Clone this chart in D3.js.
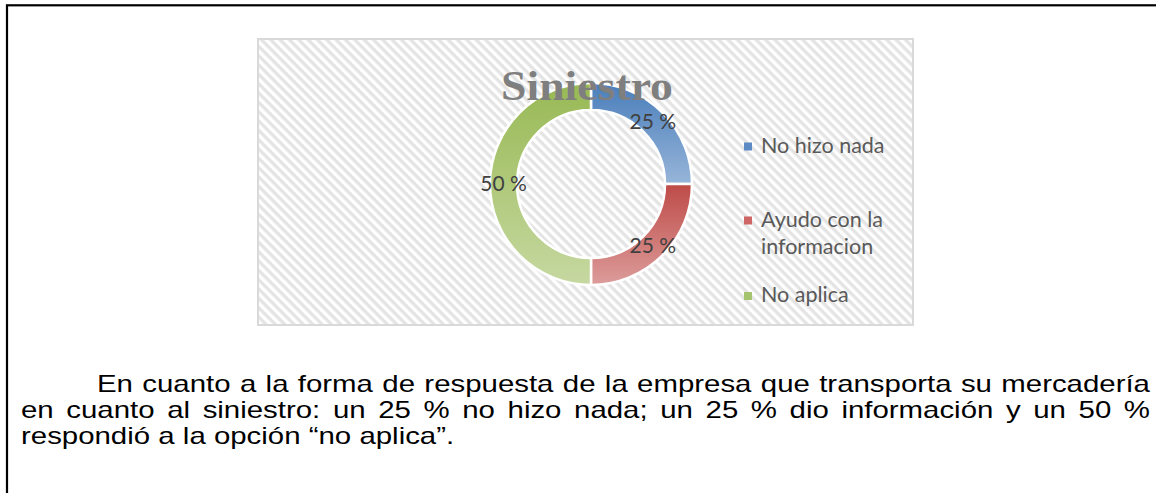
<!DOCTYPE html>
<html>
<head>
<meta charset="utf-8">
<script src="https://cdn.jsdelivr.net/npm/d3@7"></script>
<style>
  html, body { margin: 0; padding: 0; background: #ffffff; overflow: hidden; }
  svg { display: block; }
</style>
</head>
<body>
<svg id="chart" width="1156" height="493"></svg>
<script>
// ---- data ----
const categories = ["No hizo nada", "Ayudo con la informacion", "No aplica"];
const legendLines = [["No hizo nada"], ["Ayudo con la", "informacion"], ["No aplica"]];
const values = [25, 25, 50];
const valueLabels = ["25 %", "25 %", "50 %"];
const chartTitle = "Siniestro";
const paragraphLines = [
  "En cuanto a la forma de respuesta de la empresa que transporta su mercadería",
  "en cuanto al siniestro: un 25 % no hizo nada; un 25 % dio información y un 50 %",
  "respondió a la opción “no aplica”."
];

// ---- styling ----
const sliceTop = ["#4a7ebb", "#be4b48", "#98b954"];
const sliceBottom = ["#97b5d9", "#dc9c9a", "#c6d8a1"];
const legendColors = ["#5b8ac5", "#cd6664", "#a6c46d"];

const svg = d3.select("#chart");
const defs = svg.append("defs");

// diagonal hatch used for the chart area background
const hatch = defs.append("pattern")
  .attr("id", "hatch")
  .attr("patternUnits", "userSpaceOnUse")
  .attr("width", 6.6).attr("height", 6.6)
  .attr("patternTransform", "rotate(45)");
hatch.append("rect").attr("width", 6.6).attr("height", 6.6).attr("fill", "#ffffff");
hatch.append("rect").attr("width", 6.6).attr("height", 3.3).attr("fill", "#e4e4e4");

// vertical gradient for each slice
categories.forEach((c, i) => {
  const g = defs.append("linearGradient")
    .attr("id", "grad" + i)
    .attr("x1", 0).attr("y1", 0).attr("x2", 0).attr("y2", 1);
  g.append("stop").attr("offset", "0%").attr("stop-color", sliceTop[i]);
  g.append("stop").attr("offset", "100%").attr("stop-color", sliceBottom[i]);
});

// page frame
svg.append("rect")
  .attr("x", 7).attr("y", 5.3)
  .attr("width", 1300).attr("height", 700)
  .attr("fill", "none").attr("stroke", "#000").attr("stroke-width", 2.2);

// chart area
const area = { x: 258, y: 39, w: 655, h: 286 };
svg.append("rect")
  .attr("x", area.x).attr("y", area.y)
  .attr("width", area.w).attr("height", area.h)
  .attr("fill", "url(#hatch)")
  .attr("stroke", "#d9d9d9").attr("stroke-width", 2);

// doughnut
const cx = 591, cy = 184, rOuter = 101, rInner = 74;
const pie = d3.pie().sort(null).value(d => d);
const arcs = pie(values);
const arc = d3.arc().innerRadius(rInner).outerRadius(rOuter);
const ring = svg.append("g").attr("transform", `translate(${cx},${cy})`);

ring.selectAll("path.slice")
  .data(arcs)
  .join("path")
  .attr("class", "slice")
  .attr("d", arc)
  .attr("fill", (d, i) => `url(#grad${i})`)
  .attr("stroke", "#ffffff")
  .attr("stroke-width", 2.5);

// title (drawn over the ring)
svg.append("text")
  .attr("x", 587).attr("y", 99.5)
  .attr("text-anchor", "middle")
  .attr("font-family", "'Liberation Serif', 'DejaVu Serif', serif")
  .attr("font-weight", "bold")
  .attr("font-size", 42)
  .attr("textLength", 172)
  .attr("lengthAdjust", "spacingAndGlyphs")
  .attr("fill", "#7f7f7f")
  .text(chartTitle);

// value labels at slice centroids
ring.selectAll("text.val")
  .data(arcs)
  .join("text")
  .attr("class", "val")
  .attr("transform", d => `translate(${arc.centroid(d)})`)
  .attr("text-anchor", "middle")
  .attr("dy", "0.35em")
  .attr("font-family", "Lato, 'Open Sans', sans-serif")
  .attr("font-size", 21)
  .attr("fill", "#404040")
  .text((d, i) => valueLabels[i]);

// legend
const legendY = [146.5, 220.5, 296];
const legend = svg.append("g");
categories.forEach((c, i) => {
  legend.append("rect")
    .attr("x", 744).attr("y", legendY[i] - 4)
    .attr("width", 8).attr("height", 8)
    .attr("fill", legendColors[i]);
  const t = legend.append("text")
    .attr("x", 761).attr("y", legendY[i] + 6)
    .attr("font-family", "Lato, 'Open Sans', sans-serif")
    .attr("font-size", 21.5)
    .attr("fill", "#595959");
  legendLines[i].forEach((line, k) => {
    t.append("tspan").attr("x", 761).attr("dy", k === 0 ? 0 : 27).text(line);
  });
});

// paragraph below the chart: wide Arial-style lines, first two justified
const paraSize = 24;
const stretch = 1.225;
const para = svg.append("g")
  .attr("font-family", "'Liberation Sans', Arial, sans-serif")
  .attr("font-size", paraSize)
  .attr("fill", "#000");
const lineX = [97, 21, 21];
const lineRight = 1150;
const baseY = [391.5, 418, 444];

function measure(word) {
  const tmp = para.append("text").text(word);
  const wd = tmp.node().getComputedTextLength();
  tmp.remove();
  return wd * stretch;
}
function placeWord(word, x, y) {
  para.append("text")
    .attr("transform", `translate(${x},${y}) scale(${stretch},1)`)
    .text(word);
}

paragraphLines.forEach((line, li) => {
  const words = line.split(" ");
  const widths = words.map(measure);
  const space = measure("\u00a0");
  const gap = li < 2
    ? (lineRight - lineX[li] - d3.sum(widths)) / (words.length - 1)
    : space;
  let x = lineX[li];
  words.forEach((w, k) => {
    placeWord(w, x, baseY[li]);
    x += widths[k] + gap;
  });
});
</script>
</body>
</html>
